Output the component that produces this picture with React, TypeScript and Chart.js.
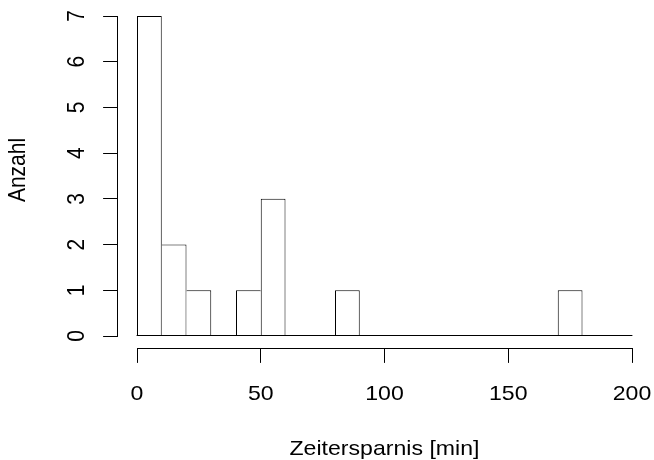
import React, { useEffect, useRef } from "react";
import { Chart, registerables } from "chart.js";

Chart.register(...registerables);

// Histogram bin edges and counts
const breaks = [0, 10, 20, 30, 40, 50, 60, 70, 80, 90, 100, 110, 120, 130, 140, 150, 160, 170, 180, 190, 200];
const counts = [7, 2, 1, 0, 1, 3, 0, 0, 1, 0, 0, 0, 0, 0, 0, 0, 0, 1, 0, 0];
const xTicks = [0, 50, 100, 150, 200];
const yTicks = [0, 1, 2, 3, 4, 5, 6, 7];
const xTitle = "Zeitersparnis [min]";
const yTitle = "Anzahl";

const FONT = '21px "Liberation Sans", Arial, sans-serif';
const SX = 1.1;

function drawText(ctx: CanvasRenderingContext2D, text: string, x: number, y: number, rotated: boolean) {
  ctx.save();
  ctx.translate(x, y);
  ctx.scale(SX, 1);
  if (rotated) ctx.rotate(-Math.PI / 2);
  ctx.fillText(text, 0, 0);
  ctx.restore();
}

const axesPlugin = {
  id: "rAxes",
  afterDatasetsDraw(chart: any) {
    const ctx = chart.ctx as CanvasRenderingContext2D;
    const xs = chart.scales.x;
    const ys = chart.scales.y;
    const area = chart.chartArea;
    ctx.save();
    ctx.strokeStyle = "#000";
    ctx.fillStyle = "#000";
    ctx.lineWidth = 1;
    ctx.lineCap = "round";

    // baseline under all bins (zero-count bins)
    const b0 = xs.getPixelForValue(breaks[0]);
    const b1 = xs.getPixelForValue(breaks[breaks.length - 1]);
    const by = ys.getPixelForValue(0) - 0.5;
    ctx.beginPath();
    ctx.moveTo(b0, by);
    ctx.lineTo(b1, by);
    ctx.stroke();

    // x axis
    const axY = Math.floor(area.bottom) + 0.5;
    const snapX = (v: number) => Math.floor(xs.getPixelForValue(v)) + 0.5;
    ctx.beginPath();
    ctx.moveTo(snapX(xTicks[0]), axY);
    ctx.lineTo(snapX(xTicks[xTicks.length - 1]), axY);
    xTicks.forEach((t) => {
      ctx.moveTo(snapX(t), axY);
      ctx.lineTo(snapX(t), axY + 14);
    });
    ctx.stroke();
    ctx.font = FONT;
    ctx.textAlign = "center";
    ctx.textBaseline = "alphabetic";
    xTicks.forEach((t) => drawText(ctx, String(t), xs.getPixelForValue(t), 400, false));
    drawText(ctx, xTitle, (area.left + area.right) / 2, 455, false);

    // y axis
    const axX = Math.floor(area.left) + 0.5;
    const snapY = (v: number) => Math.floor(ys.getPixelForValue(v)) + 0.5;
    ctx.beginPath();
    ctx.moveTo(axX, snapY(yTicks[0]));
    ctx.lineTo(axX, snapY(yTicks[yTicks.length - 1]));
    yTicks.forEach((t) => {
      ctx.moveTo(axX, snapY(t));
      ctx.lineTo(axX - 14, snapY(t));
    });
    ctx.stroke();
    yTicks.forEach((t) => drawText(ctx, String(t), 84, ys.getPixelForValue(t), true));
    drawText(ctx, yTitle, 24.5, 170, true);

    ctx.restore();
  },
};

export default function App() {
  const ref = useRef<HTMLCanvasElement | null>(null);
  useEffect(() => {
    if (!ref.current) return;
    const data = counts.map((c, i) => ({ x: (breaks[i] + breaks[i + 1]) / 2, y: c }));
    const chart = new Chart(ref.current, {
      type: "bar",
      data: {
        datasets: [
          {
            data: data as any,
            backgroundColor: "#ffffff",
            borderColor: "#000000",
            borderSkipped: false,
            inflateAmount: 0,
            borderWidth: (c: any) => {
              const i = c.dataIndex;
              const cur = counts[i];
              const prev = i > 0 ? counts[i - 1] : 0;
              const next = i < counts.length - 1 ? counts[i + 1] : 0;
              return {
                top: 1,
                bottom: 1,
                left: prev < cur ? 1 : 0,
                right: next <= cur ? 1 : 0,
              };
            },
            barPercentage: 1,
            categoryPercentage: 1,
          } as any,
        ],
      },
      options: {
        responsive: false,
        animation: false,
        devicePixelRatio: 1,
        layout: { padding: { left: 117.2, right: 2.2, top: 3.2, bottom: 111.2 } },
        plugins: { legend: { display: false }, tooltip: { enabled: false } },
        scales: {
          x: { type: "linear", min: -8, max: 208, offset: false, display: false, grid: { offset: false } },
          y: { type: "linear", min: -0.28, max: 7.28, display: false },
        },
      },
      plugins: [axesPlugin],
    });
    return () => chart.destroy();
  }, []);
  return (
    <div style={{ position: "fixed", left: 0, top: 0, width: 654, height: 460, background: "#fff" }}>
      <canvas ref={ref} width={654} height={460} style={{ display: "block" }} />
    </div>
  );
}
